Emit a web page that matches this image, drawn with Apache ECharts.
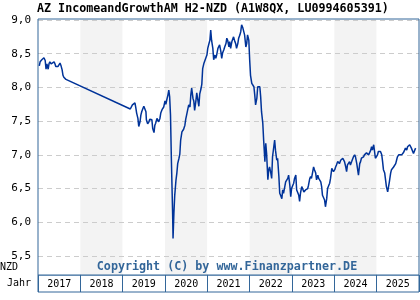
<!DOCTYPE html>
<html>
<head>
<meta charset="utf-8">
<script src="https://cdn.jsdelivr.net/npm/echarts@6/dist/echarts.min.js"></script>
<style>
html,body{margin:0;padding:0;background:#fff;}
#chart{width:420px;height:300px;}
</style>
</head>
<body>
<div id="chart"></div>
<script>
// ---- DATA ----
var titleText = 'AZ IncomeandGrowthAM H2-NZD (A1W8QX, LU0994605391)';
var currencyLabel = 'NZD';
var yearAxisLabel = 'Jahr';
var copyrightText = 'Copyright (C) by www.Finanzpartner.DE';
var years = ['2017','2018','2019','2020','2021','2022','2023','2024','2025'];
var yTicks = [5.5, 6.0, 6.5, 7.0, 7.5, 8.0, 8.5, 9.0];

// dates as decimal years
var dates = [
2017.03,2017.05,2017.09,2017.14,2017.17,2017.19,2017.21,2017.24,2017.26,2017.28,2017.31,2017.33,2017.35,2017.38,2017.40,2017.42,2017.47,2017.52,2017.54,2017.57,2017.59,2017.61,2017.66,
2019.18,2019.21,2019.23,2019.26,2019.29,2019.31,2019.33,2019.36,2019.38,2019.41,2019.43,2019.45,2019.48,2019.50,2019.52,2019.55,2019.56,2019.59,2019.62,2019.64,2019.67,2019.69,2019.71,2019.74,2019.76,2019.78,2019.81,2019.83,2019.85,2019.88,2019.90,2019.93,2019.95,2019.97,
2020.00,2020.02,2020.04,2020.07,2020.09,2020.11,2020.13,2020.15,2020.18,2020.19,2020.21,2020.23,2020.26,2020.28,2020.30,2020.33,2020.35,2020.37,2020.40,2020.42,2020.44,2020.47,2020.49,2020.51,2020.54,2020.56,2020.59,2020.61,2020.63,2020.66,2020.68,2020.70,2020.73,2020.75,2020.77,2020.80,2020.82,2020.85,2020.87,2020.89,2020.92,2020.94,2020.96,2020.99,
2021.01,2021.03,2021.06,2021.08,2021.10,2021.13,2021.15,2021.18,2021.20,2021.22,2021.25,2021.27,2021.29,2021.32,2021.34,2021.36,2021.39,2021.41,2021.44,2021.46,2021.48,2021.51,2021.53,2021.55,2021.58,2021.60,2021.62,2021.65,2021.67,2021.69,2021.72,2021.74,2021.77,2021.79,2021.81,2021.84,2021.86,2021.88,2021.91,2021.93,2021.95,2021.98,
2022.00,2022.02,2022.05,2022.07,2022.10,2022.12,2022.14,2022.17,2022.19,2022.21,2022.24,2022.26,2022.28,2022.31,2022.33,2022.36,2022.38,2022.40,2022.43,2022.45,2022.47,2022.50,2022.52,2022.54,2022.57,2022.59,2022.61,2022.64,2022.66,2022.69,2022.71,2022.73,2022.76,2022.78,2022.80,2022.83,2022.85,2022.87,2022.90,2022.92,2022.95,2022.97,2022.99,
2023.02,2023.04,2023.06,2023.09,2023.11,2023.13,2023.16,2023.18,2023.20,2023.23,2023.25,2023.28,2023.30,2023.32,2023.35,2023.37,2023.39,2023.42,2023.44,2023.46,2023.49,2023.51,2023.53,2023.56,2023.58,2023.61,2023.63,2023.65,2023.68,2023.70,2023.72,2023.75,2023.77,2023.79,2023.82,2023.84,2023.87,2023.89,2023.91,2023.94,2023.96,2023.98,
2024.01,2024.03,2024.05,2024.08,2024.10,2024.12,2024.15,2024.17,2024.20,2024.22,2024.24,2024.27,2024.29,2024.31,2024.34,2024.36,2024.38,2024.41,2024.43,2024.45,2024.48,2024.50,2024.53,2024.55,2024.57,2024.60,2024.62,2024.64,2024.67,2024.69,2024.71,2024.74,2024.76,2024.78,2024.81,2024.83,2024.86,2024.88,2024.90,2024.93,2024.95,2024.97,
2025.00,2025.02,2025.04,2025.07,2025.09,2025.12,2025.14,2025.16,2025.19,2025.21,2025.23,2025.26,2025.28,2025.30,2025.33,2025.35,2025.37,2025.40,2025.42,2025.45,2025.47,2025.49,2025.52,2025.54,2025.56,2025.59,2025.61,2025.63,2025.66,2025.68,2025.71,2025.73,2025.75,2025.78,2025.80,2025.82,2025.85,2025.87,2025.90,2025.92
];
var prices = [
8.32,8.38,8.41,8.44,8.40,8.27,8.35,8.27,8.35,8.38,8.35,8.37,8.35,8.38,8.35,8.31,8.31,8.36,8.33,8.26,8.18,8.15,8.12,
7.68,7.69,7.74,7.72,7.77,7.70,7.62,7.54,7.42,7.49,7.59,7.64,7.69,7.72,7.71,7.64,7.52,7.46,7.49,7.53,7.54,7.52,7.39,7.33,7.44,7.47,7.54,7.56,7.49,7.54,7.62,7.67,7.68,7.71,
7.80,7.75,7.81,7.89,7.96,7.86,7.59,6.95,6.13,5.76,6.13,6.40,6.63,6.73,6.87,6.95,7.01,7.22,7.34,7.33,7.38,7.44,7.53,7.59,7.57,7.74,7.71,7.89,7.99,7.84,7.80,7.66,7.80,7.92,7.90,7.72,7.90,7.98,8.05,8.28,8.36,8.38,8.43,8.48,
8.58,8.63,8.70,8.85,8.70,8.58,8.41,8.48,8.43,8.48,8.58,8.60,8.63,8.53,8.43,8.51,8.56,8.60,8.65,8.73,8.70,8.60,8.68,8.58,8.68,8.70,8.75,8.68,8.65,8.58,8.65,8.73,8.78,8.83,8.93,8.88,8.90,8.78,8.60,8.65,8.78,8.70,
8.41,8.18,8.06,8.06,8.01,7.89,7.74,7.84,8.01,7.99,8.01,7.86,7.64,7.47,7.22,6.90,7.17,7.02,6.63,6.78,6.82,6.73,6.65,6.97,7.12,7.22,7.07,6.92,6.95,6.68,6.43,6.40,6.35,6.48,6.43,6.53,6.60,6.58,6.65,6.70,6.54,6.38,6.50,
6.55,6.58,6.65,6.70,6.48,6.45,6.40,6.31,6.43,6.53,6.50,6.45,6.45,6.48,6.49,6.50,6.55,6.65,6.68,6.65,6.75,6.82,6.78,6.73,6.63,6.70,6.65,6.63,6.60,6.53,6.40,6.38,6.33,6.23,6.35,6.50,6.55,6.58,6.65,6.80,6.82,6.75,
6.78,6.82,6.85,6.90,6.92,6.87,6.92,6.90,6.95,6.97,6.90,6.82,6.75,6.85,6.87,6.90,6.85,6.90,6.92,6.97,7.00,6.97,6.87,6.85,6.70,6.87,6.90,6.95,6.97,6.97,7.00,7.02,7.03,7.02,7.00,7.02,7.07,7.12,7.07,7.15,7.05,6.95,
6.97,7.00,7.05,7.07,7.05,7.00,6.90,6.78,6.73,6.63,6.53,6.45,6.43,6.60,6.73,6.78,6.80,6.82,6.80,6.87,6.92,6.97,7.00,7.00,7.02,7.00,7.02,7.03,7.07,7.10,7.07,7.12,7.10,7.15,7.17,7.10,7.12,7.02,7.07,7.10
];

// ---- CHART ----
var FONT = "'DejaVu Sans Mono', monospace";
var FRAME = '#336699';
var yMin = yTicks[0], yMax = yTicks[yTicks.length - 1];
// data grid is taller than the tick grid: 1px above 9,0 and 19px below 5,5
var pxPerUnit = 236 / (yMax - yMin);
var seriesData = dates.map(function (d, i) { return [d, prices[i]]; });

var chart = echarts.init(document.getElementById('chart'), null, {renderer: 'canvas'});
chart.setOption({
  animation: false,
  backgroundColor: '#ffffff',
  title: {
    text: titleText, left: 37, top: 3, padding: 0,
    textStyle: {fontFamily: FONT, fontSize: 11.7, fontWeight: 'bold', color: '#000'}
  },
  graphic: [
    {type: 'text', left: 0, top: 262, style: {text: currencyLabel, font: "10px 'DejaVu Sans Mono'", fill: '#000'}},
    {type: 'text', left: 7, top: 278, style: {text: yearAxisLabel, font: "10px 'DejaVu Sans Mono'", fill: '#000'}},
    {type: 'text', x: 227, y: 267, z: 10, style: {text: copyrightText, font: "bold 11.7px 'DejaVu Sans Mono'", fill: FRAME, textAlign: 'center', textVerticalAlign: 'middle'}}
  ],
  grid: [
    {left: 38, top: 19, width: 381, height: 256, show: true, borderColor: FRAME, borderWidth: 1, backgroundColor: 'transparent', z: 3},
    {left: 38, top: 20, width: 381, height: 236, show: false},
    {left: 38, top: 275, width: 381, height: 17, show: true, borderColor: FRAME, borderWidth: 1}
  ],
  xAxis: [
    {gridIndex: 0, type: 'value', min: 2017, max: 2026, interval: 1,
      axisLine: {show: false}, axisTick: {show: false}, axisLabel: {show: false}, splitLine: {show: false},
      splitArea: {show: true, areaStyle: {color: ['#ffffff', '#f3f3f3']}}},
    {gridIndex: 1, type: 'value', min: 0, max: 1, show: false},
    {gridIndex: 2, type: 'category', data: years, boundaryGap: true, position: 'bottom',
      axisLine: {show: false}, axisTick: {show: false},
      axisLabel: {inside: true, margin: 8, verticalAlign: 'middle', fontFamily: FONT, fontSize: 10, color: '#000'},
      splitLine: {show: true, interval: 0, lineStyle: {color: FRAME, width: 1}}}
  ],
  yAxis: [
    {gridIndex: 0, type: 'value', min: yMin - 19 / pxPerUnit, max: yMax + 1 / pxPerUnit, show: false, splitLine: {show: false}},
    {gridIndex: 1, type: 'value', min: yMin, max: yMax, interval: 0.5, z: 1,
      axisLine: {show: false}, axisTick: {show: false},
      axisLabel: {margin: 7, fontFamily: FONT, fontSize: 11, color: '#000',
        formatter: function (v) { return v.toFixed(1).replace('.', ','); }},
      splitLine: {show: true, lineStyle: {color: '#cccccc', type: [5, 4], width: 1}}},
    {gridIndex: 2, type: 'value', min: 0, max: 1, show: false}
  ],
  series: [{
    type: 'line', xAxisIndex: 0, yAxisIndex: 0, data: seriesData,
    showSymbol: false, symbol: 'none', z: 5,
    lineStyle: {color: '#003399', width: 1.5}
  }]
});
</script>
</body>
</html>
